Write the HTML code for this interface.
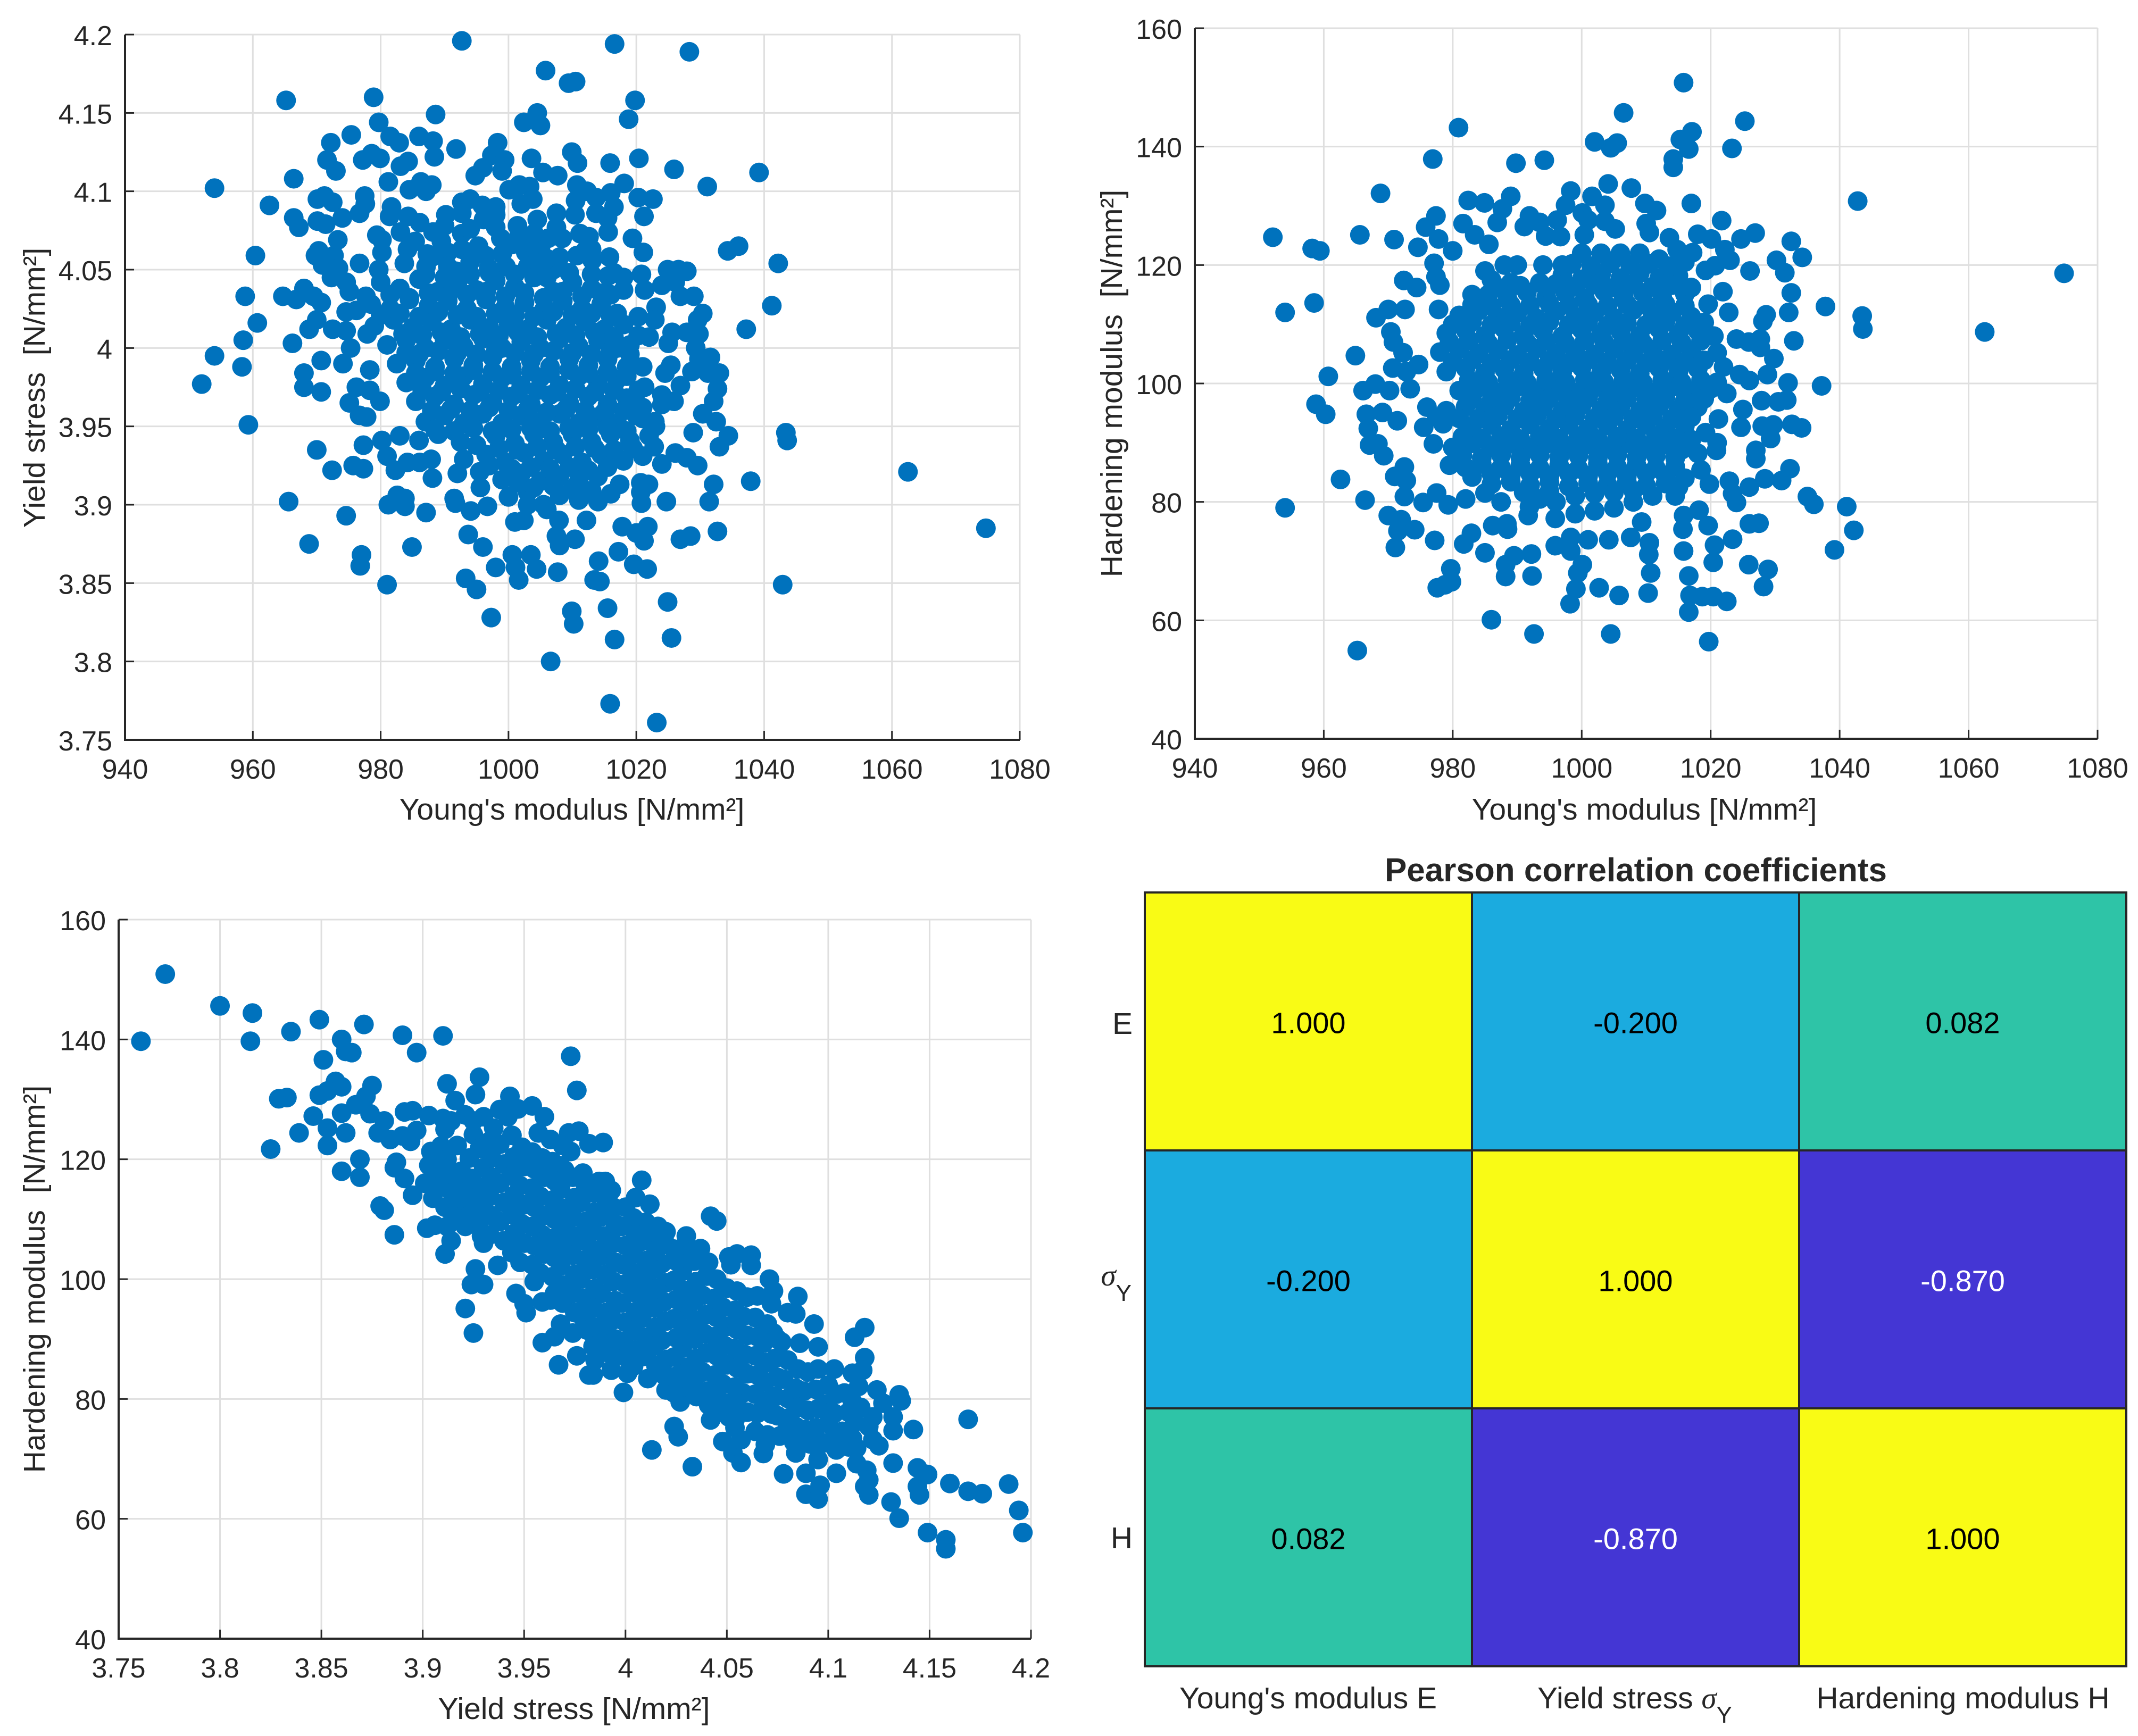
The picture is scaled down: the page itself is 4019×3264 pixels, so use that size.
<!DOCTYPE html>
<html lang="en">
<head>
<meta charset="utf-8">
<title>Material parameter scatter plots and Pearson correlation</title>
<style>
html,body{margin:0;padding:0;background:#fff;}
svg{display:block;font-family:"Liberation Sans",Arial,sans-serif;fill:#262626;}
.lbl{font-size:57px;white-space:pre;}
.sym{font-family:"Liberation Serif",serif;font-style:italic;font-size:57px;}
.sub{font-size:44px;}
</style>
</head>
<body>
<svg id="figure" xmlns="http://www.w3.org/2000/svg" width="4019" height="3264" viewBox="0 0 4019 3264">
<rect x="0" y="0" width="4019" height="3264" fill="#ffffff"/>
<g id="p1"></g>
<g id="p2"></g>
<g id="p3"></g>
<g id="hm"></g>
<text class="lbl" x="1075" y="1541" text-anchor="middle">Young's modulus [N/mm²]</text>
<text class="lbl" transform="translate(84,729) rotate(-90)" text-anchor="middle">Yield stress  [N/mm²]</text>
<text class="lbl" x="3091" y="1541" text-anchor="middle">Young's modulus [N/mm²]</text>
<text class="lbl" transform="translate(2109,721) rotate(-90)" text-anchor="middle">Hardening modulus  [N/mm²]</text>
<text class="lbl" x="1079" y="3232" text-anchor="middle">Yield stress [N/mm²]</text>
<text class="lbl" transform="translate(84,2405) rotate(-90)" text-anchor="middle">Hardening modulus  [N/mm²]</text>
<text x="3075" y="1657" font-size="62" font-weight="bold" text-anchor="middle">Pearson correlation coefficients</text>
<text font-size="57" x="2129" y="1944" text-anchor="end">E</text>
<text font-size="57" x="2127" y="2417" text-anchor="end"><tspan class="sym">σ</tspan><tspan class="sub" dy="29">Y</tspan></text>
<text font-size="57" x="2129" y="2911" text-anchor="end">H</text>
<text font-size="57" x="2459" y="3212" text-anchor="middle">Young's modulus E</text>
<text font-size="57" x="3073" y="3212" text-anchor="middle">Yield stress <tspan class="sym">σ</tspan><tspan class="sub" dy="27">Y</tspan></text>
<text font-size="57" x="3690" y="3212" text-anchor="middle">Hardening modulus H</text>
</svg>
<script>
const modulusTicks=[940,960,980,1000,1020,1040,1060,1080];
const stressTicks=[3.75,3.8,3.85,3.9,3.95,4,4.05,4.1,4.15,4.2];
const hardeningTicks=[40,60,80,100,120,140,160];
const heatCategories=['E','sigmaY','H'];
const heatRow1=[1.000,-0.200,0.082];
const heatRow2=[-0.200,1.000,-0.870];
const heatRow3=[0.082,-0.870,1.000];
const stressVsModulus=[
[992.7,4.196],[1016.6,4.194],[1028.3,4.189],[1005.8,4.177],[1009.4,4.169],[1010.5,4.170],[965.2,4.158],[978.9,4.160],[1019.8,4.158],[979.7,4.144],[988.6,4.149],[1018.8,4.146],[1002.4,4.144],[1004.5,4.150],[1005,4.142],
[972.2,4.131],[975.4,4.136],[981.5,4.135],[982.9,4.131],[986,4.135],[988.2,4.132],[988.4,4.122],[991.8,4.127],[998.3,4.131],[978.6,4.124],[977.2,4.120],[979.9,4.121],[971.6,4.120],[973,4.113],[983.1,4.116],[984.3,4.119],
[966.4,4.108],[954,4.102],[962.6,4.091],[981.2,4.106],[997.4,4.123],[999.4,4.120],[996,4.115],[999,4.113],[994.8,4.110],[1003.6,4.121],[1005.4,4.112],[1007.7,4.110],[1009.9,4.125],[1010.8,4.118],[1015.9,4.118],[1020.4,4.121],[1025.9,4.114],[1031.1,4.103],[1039.2,4.112],
[984.5,4.101],[986.3,4.106],[988,4.104],[987.1,4.100],[970.1,4.095],[971.2,4.097],[972.5,4.093],[977.5,4.097],[977.6,4.092],[976.7,4.086],[981.7,4.090],[981.4,4.084],[974,4.083],[966.4,4.083],[967.2,4.077],[970.1,4.081],[971.4,4.079],[984.3,4.084],[986.1,4.080],[990.2,4.085],[992.7,4.093],[994,4.095],[992.7,4.086],[995.9,4.091],[996.1,4.082],[998,4.090],[998,4.085],[1001.7,4.104],[1000.1,4.101],[1003.3,4.103],[1002,4.092],[1003.8,4.095],[1004.5,4.082],[1007.5,4.086],[1010.7,4.104],[1012.3,4.100],[1010.5,4.094],[1010.4,4.085],[1013.7,4.096],[1013.7,4.086],[1016,4.099],[1018.1,4.105],[1016.5,4.090],[1015.5,4.083],[1020.3,4.096],[1022.6,4.095],[1021.2,4.084],
[979.4,4.072],[980.2,4.069],[980.2,4.061],[983.1,4.074],[984.2,4.063],[983.7,4.054],[985.4,4.068],[988.2,4.074],[989.5,4.068],[987.3,4.060],[987.1,4.052],[990.5,4.061],[990.5,4.052],[992.7,4.073],[992.7,4.063],[991.8,4.049],[995.3,4.065],[996.4,4.059],[996.9,4.051],[998.8,4.070],[999.6,4.052],[1001.4,4.078],[1001.7,4.073],[1002.7,4.061],[1004.3,4.054],[1006.2,4.070],[1008.4,4.070],[1011.2,4.073],[1012.6,4.071],[1010.7,4.059],[1013.1,4.056],[1015.6,4.074],[1015.8,4.058],[1019.4,4.070],[1021.1,4.061],[960.4,4.059],[969.8,4.059],[970.3,4.062],[970.9,4.053],[972.7,4.059],[973.3,4.069],[973.4,4.051],[976.7,4.054],[979.7,4.050],[1034.3,4.062],[1036,4.065],[1042.2,4.054],[1024.9,4.050],[1026.6,4.050],[1027.9,4.049],[1005,4.064],[1008,4.058],[1003,4.052],[1007,4.050],
[964.7,4.033],[966.8,4.031],[968,4.038],[969.5,4.033],[970.7,4.029],[958.8,4.033],[960.7,4.016],[958.5,4.005],[966.2,4.003],[968.8,4.012],[970,4.018],[972.5,4.012],[972.3,4.045],[974.6,4.042],[975.1,4.036],[974.6,4.023],[976.2,4.024],[974.6,4.011],[975.3,4.000],[977.7,4.033],[977.9,4.009],
[1015.6,4.046],[1018,4.037],[1020.8,4.047],[1021.3,4.037],[1024,4.040],[1026.1,4.042],[1026.9,4.033],[1029,4.033],[1030.4,4.022],[1029.6,4.018],[1023.1,4.026],[1022.9,4.018],[1020.3,4.020],[1020.3,4.008],[1022,4.007],[1025.6,4.010],[1027.9,4.010],[1029.8,4.009],[1025,4.003],[1041.2,4.027],[1037.2,4.012],
[952,3.977],[954,3.995],[958.3,3.988],[959.3,3.951],[970.7,3.992],[968,3.984],[968,3.975],[970.7,3.972],[974.1,3.990],[975.1,3.965],[976.2,3.975],[976.7,3.957],[977.8,3.956],[978.3,3.986],[979.9,3.966],[978.3,3.973],
[1031.6,3.994],[1033,3.984],[1031.2,3.984],[1028.7,3.985],[1029.3,4.000],[1029.8,3.993],[1025.4,3.989],[1024.5,3.984],[1026.9,3.976],[1024,3.970],[1025.9,3.966],[1024,3.964],[1032.7,3.974],[1032.1,3.966],[1030.4,3.958],[1032.5,3.953],[1028.9,3.946],[1034.4,3.944],[1043.4,3.946],[1043.6,3.941],[1021,3.988],[1019.2,3.989],[1020.3,3.973],[1021.3,3.975],[1022.9,3.953],
[970,3.935],[972.4,3.922],[975.7,3.925],[977.3,3.923],[977.3,3.938],[980.2,3.941],[981,3.931],[982.3,3.922],[984.2,3.927],[986.1,3.927],[988.1,3.917],[987.9,3.929],[965.6,3.902],[974.6,3.893],[981.2,3.900],[982.6,3.906],[983.8,3.904],[983.8,3.899],[987.1,3.895],[968.8,3.875],[991.5,3.904],[991.7,3.901],[994.1,3.896],[996.7,3.899],[995.6,3.911],[993.7,3.881],[996,3.873],[984.9,3.873],[977,3.868],[976.8,3.861],[981,3.849],[998,3.860],[993.3,3.853],[995,3.846],[997.3,3.828],[1000.6,3.868],[1003.5,3.868],[1001.1,3.860],[1004.4,3.859],[1001.6,3.852],[1007.7,3.857],[1008,3.874],[1007.5,3.880],[1010.4,3.878],[1007.9,3.890],[1001,3.889],[1002.4,3.890],[1012.2,3.890],[1017.8,3.886],[1020,3.882],[1021.8,3.886],[1021.2,3.877],[1017.2,3.870],[1014.1,3.864],[1013.4,3.852],[1014.3,3.851],[1019.6,3.862],[1021.7,3.859],[1026.9,3.878],[1028.5,3.880],[1032.7,3.883],[1037.9,3.915],[1031.4,3.902],[1032.1,3.913],[1024.7,3.902],[1020.8,3.901],[1020.7,3.908],[1021.9,3.913],[1020.7,3.914],[1017.4,3.913],[1062.5,3.921],[1074.7,3.885],[1042.9,3.849],[1024.9,3.838],[1025.5,3.815],[1016.6,3.814],[1015.5,3.834],[1009.9,3.832],[1010.2,3.824],[1006.6,3.800],[1015.9,3.773],[1023.2,3.761],[1026.1,3.933],[1027.9,3.930],[1029.6,3.925],[1024,3.926],[1033,3.937],[1022.8,3.937]
];
const stressVsModulusDense=[
[980,4.042],[983,4.038],[986,4.044],[989,4.036],[992,4.041],[995,4.037],[998,4.043],[1001,4.039],[1004,4.045],[1007,4.036],[1010,4.042],[1013,4.038],[1016,4.034],
[978.5,4.028],[981.5,4.025],[984.5,4.031],[987.5,4.027],[990.5,4.030],[993.5,4.025],[996.5,4.031],[999.5,4.026],[1002.5,4.029],[1005.5,4.024],[1008.5,4.030],[1011.5,4.025],[1014.5,4.028],[1017,4.022],
[979,4.014],[982,4.018],[985,4.013],[988,4.017],[991,4.012],[994,4.018],[997,4.013],[1000,4.016],[1003,4.012],[1006,4.018],[1009,4.013],[1012,4.017],[1015,4.012],[1018,4.015],
[981,4.002],[984,4.005],[987,4.000],[990,4.005],[993,4.001],[996,4.006],[999,4.000],[1002,4.004],[1005,4.000],[1008,4.006],[1011,4.001],[1014,4.005],[1017,4.000],
[982.5,3.990],[985.5,3.992],[988.5,3.988],[991.5,3.993],[994.5,3.989],[997.5,3.994],[1000.5,3.988],[1003.5,3.992],[1006.5,3.988],[1009.5,3.993],[1012.5,3.989],[1015.5,3.993],[1018.5,3.988],
[984,3.978],[987,3.981],[990,3.976],[993,3.982],[996,3.977],[999,3.981],[1002,3.976],[1005,3.981],[1008,3.976],[1011,3.982],[1014,3.977],[1017,3.980],
[985.5,3.966],[988.5,3.969],[991.5,3.964],[994.5,3.970],[997.5,3.965],[1000.5,3.969],[1003.5,3.964],[1006.5,3.970],[1009.5,3.965],[1012.5,3.969],[1015.5,3.964],[1018.5,3.968],[1021,3.962],
[987,3.953],[990,3.957],[993,3.952],[996,3.958],[999,3.952],[1002,3.957],[1005,3.953],[1008,3.958],[1011,3.952],[1014,3.956],[1017,3.952],[1020,3.957],[1023,3.950],
[983,3.944],[986,3.941],[989,3.945],[992.5,3.940],[998,3.944],[1001,3.939],[1004,3.945],[1007,3.940],[1010,3.945],[1013,3.940],[1016,3.945],[1019,3.941],[1022,3.944],
[993,3.929],[996.5,3.932],[999.5,3.927],[1002.5,3.933],[1005.5,3.928],[1008.5,3.932],[1011.5,3.927],[1014.5,3.932],[1018,3.928],[1021,3.931],
[992,3.920],[995.5,3.921],[999,3.916],[1002,3.920],[1005,3.915],[1008,3.918],[1011,3.915],[1014,3.918],
[1000,3.905],[1003,3.908],[1005.5,3.900],[1008,3.906],[1011,3.903],[1014,3.902],[1016,3.907],
[981.5,4.034],[984.5,4.032],[987.5,4.035],[990.5,4.033],[993.5,4.034],[996.5,4.036],[999.5,4.033],[1002.5,4.035],[1005.5,4.032],[1008.5,4.036],[1011.5,4.033],[1014.5,4.035],
[980,4.021],[983,4.022],[986,4.020],[989,4.023],[992,4.021],[995,4.020],[998,4.022],[1001,4.021],[1004,4.020],[1007,4.023],[1010,4.021],[1013,4.022],[1016,4.020],
[983.5,4.009],[986.5,4.008],[989.5,4.010],[992.5,4.007],[995.5,4.009],[998.5,4.008],[1001.5,4.010],[1004.5,4.007],[1007.5,4.009],[1010.5,4.008],[1013.5,4.010],[1016.5,4.007],[1019,4.002],
[984,3.997],[986,3.996],[989,3.998],[992,3.997],[995,3.996],[998,3.998],[1001,3.997],[1004,3.996],[1007,3.998],[1010,3.997],[1013,3.996],[1016,3.998],[1019,3.996],
[985.5,3.984],[988.5,3.985],[991.5,3.984],[994.5,3.986],[997.5,3.985],[1000.5,3.983],[1003.5,3.985],[1006.5,3.984],[1009.5,3.986],[1012.5,3.984],[1015.5,3.985],[1018.5,3.982],
[986.5,3.973],[989.5,3.972],[992.5,3.974],[995.5,3.972],[998.5,3.973],[1001.5,3.971],[1004.5,3.973],[1007.5,3.972],[1010.5,3.974],[1013.5,3.972],[1016.5,3.973],[1019.5,3.964],
[988,3.960],[991,3.961],[994,3.960],[997,3.962],[1000,3.960],[1003,3.961],[1006,3.959],[1009,3.961],[1012,3.960],[1015,3.959],[1018,3.960],[1021,3.955],
[988.5,3.948],[991.5,3.947],[994.5,3.949],[997.5,3.947],[1000.5,3.948],[1003.5,3.949],[1006.5,3.947],[1009.5,3.949],[1012.5,3.948],[1015.5,3.949],[1018.5,3.947],
[995,3.938],[998.5,3.936],[1001.5,3.935],[1004.5,3.937],[1007.5,3.935],[1010.5,3.937],[1013.5,3.936],[1016.5,3.935],[1019.5,3.936],
[997,3.925],[1000.5,3.923],[1003.5,3.924],[1006.5,3.923],[1009.5,3.924],[1012.5,3.922],[1015.5,3.924],
[1001.5,3.914],[1004,3.911],[1007,3.912],[1010,3.910],[1013,3.909],[1003,3.900],[1006,3.897],
[987,4.047],[990,4.045],[994,4.047],[997,4.048],[1001,4.047],[1006,4.045],[1009.5,4.048],[1013,4.047],[1018,4.045],
[988,4.058],[994,4.055],[999,4.060],[1006,4.057],[1012,4.062],[1000.5,4.066],[1003,4.068],[1007.5,4.077],[1004,4.073],[990,4.078],[994,4.076],[998,4.077],[1013,4.063],[1016.5,4.048]
];
const hardeningVsModulus=[
[1015.8,150.8],[1006.5,145.7],[1025.3,144.3],[980.9,143.2],[1017.1,142.5],[1002,140.8],[1004.5,139.8],[1005.5,140.6],[1015.3,141.2],[1016.6,139.6],[1023.3,139.7],[1014.2,137.9],[1014.2,136.5],[976.9,137.9],[989.8,137.2],[994.2,137.7],[1004.1,133.7],[1007.7,133],[968.8,132.1],[982.4,130.9],[984.9,130.5],[989,131.6],[998.3,132.5],[997.5,130.1],[1001.6,131.6],[1003.6,130.1],[1017,130.4],[1009.8,130.4],[1011.6,129.2],[1042.8,130.8],
[952.1,124.7],[958.2,122.8],[959.4,122.4],[965.6,125.1],[970.9,124.3],[974.6,123],[975.8,126.4],[977.4,128.3],[977.8,124.4],[981.6,127],[983.4,125.1],[980,122.4],[985.6,123.5],[986.9,127.2],[987.7,129.5],[991.9,128.3],[991.1,126.5],[993.5,127.2],[996.2,127.6],[994.4,124.9],[996.7,124.8],[1000.1,128.8],[1001,127.6],[1000.4,125.1],[1003.6,127.4],[1005.2,126.1],[1010,127],[1010.5,125.5],[1013.6,124.6],[1018,125.2],[1021.7,127.5],[1020.1,124.4],[1024.7,124.4],[1026.9,125.4],[1032.5,124],[1034.2,121.3],[1022.2,122.6],[1017.2,122.1],[1014.8,122.6],[1030.2,120.8],[1031.5,118.7],[1026.1,119],[1023,120.8],[1074.8,118.6],[1032.5,115.3],[1032.1,112],[1037.8,113],[1043.5,111.4],[1043.6,109.2],[1062.5,108.7],[1037.2,99.6],[1032.9,107.2],[1028.6,111.6],[1028.1,110.5],[1027.7,107.5],[1027.7,106.1],[1029.8,104.2],[1028.8,101.5],[1032,100.1],[1025.9,107],[1024,107.5],[1026,100.5],[1024.5,101.5],[1021.9,115.5],[1022.8,112],[1019.6,113.4],[1020.7,119.9],[1019.2,119.1],
[977.1,120.3],[977.4,118],[978,116.6],[977.8,112.5],[974.4,116.2],[972.4,117.4],[972.6,112.5],[970,112.5],[968.1,111.1],[954,112],[958.5,113.6],[970.4,108.7],[970.8,107],[972.3,105.2],[964.9,104.7],[960.7,101.2],[970.7,102.6],[968,99.9],[966.1,98.8],[972.8,102],[974.7,103.2],[973.4,99.1],[970.2,98.8],[958.8,96.5],[960.3,94.8],[966.6,94.8],[969.1,95.1],[971.4,93.7],[966.9,92.4],[967.1,89.6],[968.4,89.8],[969.3,87.8],[971,84.3],[972.8,83.6],[972.5,85.9],[962.6,83.8],[954,79],[966.4,80.3],[972.5,80.9],[975.4,79.9],[970,77.7],[972,77],[971.5,75.1],[974.1,75.3],[971.1,72.3],[977.2,73.5],[965.2,54.9],[986,60.1],[992.6,57.7],[1004.5,57.7],[1019.7,56.4],[1016.6,61.4],[1022.5,63.2],[1020.4,64],[1018.7,64],[1016.8,64.2],[1010.3,64.6],[1005.8,64.2],[998.2,62.8],[1002.7,65.5],[999.1,65.3],[992.3,67.5],[988.2,67.4],[977.6,65.5],[978.8,66],[979.8,66.5],[979.7,68.7],[988.2,69.4],[989.5,70.9],[992.2,71.2],[985,71.4],[981.7,72.9],[982.9,74.7],[986.2,76],[988.4,76.3],[988.5,75.4],[995.9,72.6],[998.3,71.7],[1000.1,69.4],[999.4,68],[1010.7,68],[1016.6,67.5],[1020.4,69.8],[1025.9,69.4],[1028.9,68.6],[1028.2,65.7],[1039.2,71.9],[1042.2,75.2],[1041.1,79.2],[1035,80.9],[1036,79.6],[1026,76.3],[1027.5,76.4],[1023.4,73.7],[1020.6,72.7],[1015.8,71.7],[1019.6,76],[1018.2,78.6],[1015.7,75.4],[1015.8,77.7],[1010.5,73.1],[1010.4,71.1],[1007.6,74],[1009.3,76.6],[1004.2,73.6],[998.3,74],[1001,73.6],[991.7,77.7],[991.9,79.2],[995.9,77.2],[1023.4,81.4],[1024,79.9],[1022.9,83.5],[1026,82.5],[1028.4,83.9],[1031,83.6],[1032.3,85.6],[1027,87.3],[1027,88.7],[1019.8,83],[1020.9,88.7],[1021,90],[1019.2,91.7],[1021.2,94],[1024.7,92.6],[1025,95.6],[1027.9,97.1],[1028,92.8],[1029.7,93],[1029.3,90.7],[1030.5,96.9],[1031.8,97.2],[1032.6,93.1],[1034.1,92.5],
[977.5,81.5],[979.3,79.5],[982,80.5],[985,81.5],[987.5,80],[993.5,80.5],[996,80],[999,78],[1002,78.5],[1005,79],[1008,80],[1011,81],[1014.5,81],[1015,82.5]
];
const hardeningVsModulusDense=[
[983,115],[985,119],[988,120],[990,120],[986,117.5],[989,117],[994,120],[997,120],[1000,122],[1003,122],[1006,122],[1009,122],[1012,121],
[997,118.3],[1000,117.6],[1003,118.4],[1006,117.8],[1009,118.6],[1012,117.7],[1015,118.2],
[985.5,115],[988.5,114.3],[991.5,115.4],[994.5,114.6],[997.5,115.2],[1000.5,114.4],[1003.5,115.5],[1006.5,114.7],[1009.5,115.3],[1012.5,114.5],[1016,115.1],
[981,111.5],[984,112.3],[987,111.2],[990,111.9],[993,111],[996,112.2],[999,111.3],[1002,112],[1005,111.1],[1008,112.4],[1011,111.5],[1014,112],[1017,111.3],
[979,108.5],[982,109],[985,108.1],[988,109.2],[991,108.3],[994,108.9],[997,108],[1000,109.1],[1003,108.4],[1006,108.8],[1009,108.1],[1012,109.2],[1015,108.3],[1018,108.9],[1020.5,108],
[978,105.3],[981,105.8],[984,105],[987,105.7],[990,104.8],[993,105.9],[996,105.1],[999,105.6],[1002,104.9],[1005,105.8],[1008,105.2],[1011,105.7],[1014,104.9],[1017,105.5],[1021,105.2],
[979,102],[982,102.6],[985,101.8],[988,102.4],[991,101.7],[994,102.5],[997,102],[1000,102.7],[1003,101.8],[1006,102.3],[1009,101.7],[1012,102.6],[1015,102],[1018,102.5],[1022,102.8],
[981,98.8],[984,99.3],[987,98.5],[990,99.4],[993,98.6],[996,99.1],[999,98.5],[1002,99.3],[1005,98.7],[1008,99.2],[1011,98.5],[1014,99.4],[1017,98.6],[1020,99.1],[1022.5,98.3],
[976,96],[979,95.4],[982,96.1],[985,95.5],[988,96.2],[991,95.3],[994,96],[997,95.4],[1000,96.3],[1003,95.5],[1006,96],[1009,95.3],[1012,96.1],[1015,95.5],[1018,96],
[975.5,92.6],[978.5,93.2],[983,92.5],[986,93],[989,92.2],[992,93.1],[995,92.4],[998,93],[1001,92.3],[1004,92.9],[1007,92.2],[1010,93],[1013,92.5],[1016,92.8],
[977,89.8],[980,89.2],[983,89.9],[986,89.2],[989,89.8],[992,89.1],[995,89.9],[998,89.3],[1001,89.7],[1004,89.1],[1007,89.9],[1010,89.2],[1013,89.7],[1015.5,88.8],[1018,88.2],
[979.5,86.2],[982,85.8],[984.5,86.4],[987.5,85.8],[990.5,86.3],[993.5,85.7],[996.5,86.2],[999.5,85.6],[1002.5,86.4],[1005.5,85.9],[1008.5,86.2],[1011.5,85.7],[1014.5,86],[1018.5,85.4],
[986,83],[989,83.4],[992,82.8],[995,83.3],[998,82.6],[1001,83.2],[1004,82.9],[1007,83.4],[1010,82.7],[1013,83.1],
[998.5,120.2],[1001.5,119.8],[1004.5,120.3],[1007.5,120],[1010.5,120.2],[1013.5,119.8],[1016,120.5],
[987,116.2],[990.5,116.5],[993.5,117],[996,116.8],[999,116.4],[1002,116.7],[1005,116.2],[1008,116.8],[1011,116.3],[1014,116.6],[1017,116.2],
[983,113.3],[986,113],[989,113.3],[992,113.2],[995,113.4],[998,113.2],[1001,113.3],[1004,113.1],[1007,113.4],[1010,113.2],[1013,113.4],[1016,113.1],
[980,110],[983,110.4],[986,109.9],[989,110.4],[992,109.8],[995,110.5],[998,109.9],[1001,110.4],[1004,109.8],[1007,110.3],[1010,109.9],[1013,110.4],[1016,109.8],[1019,110.3],
[979.5,107],[982.5,107.3],[985.5,106.8],[988.5,107.4],[991.5,106.9],[994.5,107.2],[997.5,106.8],[1000.5,107.3],[1003.5,106.9],[1006.5,107.2],[1009.5,106.8],[1012.5,107.3],[1015.5,106.9],[1018.5,107.2],
[980,103.6],[983,104],[986,103.5],[989,104],[992,103.6],[995,103.9],[998,103.5],[1001,104],[1004,103.6],[1007,103.9],[1010,103.5],[1013,104],[1016,103.6],[1019,103.9],
[982.5,100.6],[985.5,100.2],[988.5,100.7],[991.5,100.1],[994.5,100.6],[997.5,100.2],[1000.5,100.7],[1003.5,100.2],[1006.5,100.6],[1009.5,100.1],[1012.5,100.6],[1015.5,100.2],[1018.5,100.6],[1021,100.2],
[983,97.4],[986,97.1],[989,97.6],[992,97.1],[995,97.5],[998,97.2],[1001,97.6],[1004,97.1],[1007,97.5],[1010,97.2],[1013,97.5],[1016,97.1],[1019,97.4],
[977.5,94.3],[981,94.1],[984,94],[987,94.5],[990,94],[993,94.5],[996,94],[999,94.5],[1002,94.1],[1005,94.4],[1008,94],[1011,94.5],[1014,94],[1017,94.3],
[981.5,91],[984.5,90.7],[987.5,91.1],[990.5,90.6],[993.5,91.1],[996.5,90.7],[999.5,91.1],[1002.5,90.6],[1005.5,91],[1008.5,90.7],[1011.5,91.1],[1014.5,90.7],[1017,90.5],
[981.5,87.8],[984.5,87.4],[987.5,87.9],[990.5,87.4],[993.5,87.9],[996.5,87.5],[999.5,87.8],[1002.5,87.4],[1005.5,87.9],[1008.5,87.5],[1011.5,87.8],[1014.5,87.4],
[983,84.2],[986,84.7],[989,84.4],[992,84.8],[995,84.3],[998,84.8],[1001,84.4],[1004,84.8],[1007,84.3],[1010,84.8],[1013,84.4],[1016,84],
[991,81.6],[995,81.8],[999,81],[1002,81.4],[1005,81.6],[1008,81.9]
];
const hardeningVsStress=[
[3.761,139.7],[3.773,150.9],[3.8,145.6],[3.816,144.4],[3.815,139.7],[3.835,141.3],[3.849,143.3],[3.871,142.5],[3.89,140.7],[3.91,140.6],[3.86,140],[3.862,138],[3.865,137.8],[3.897,137.8],[3.851,136.6],[3.973,137.2],[3.976,131.5],[3.928,133.7],[3.912,132.6],[3.926,130.8],[3.943,130.5],[3.916,129.8],[3.875,132.3],[3.857,133],[3.86,132.1],[3.853,131.4],[3.849,130.7],[3.829,130.1],[3.833,130.3],[3.872,130.5],[3.867,129.1],[3.874,127.6],[3.86,127.7],[3.846,127.2],[3.839,124.4],[3.853,125.2],[3.862,124.4],[3.853,122.3],[3.825,121.7],[3.869,120],[3.86,118],[3.869,117],[3.881,126.4],[3.878,124.4],[3.884,123.3],[3.891,127.9],[3.895,128.1],[3.89,123.9],[3.903,127.3],[3.897,124.8],[3.894,123],[3.886,118.6],[3.887,119.5],[3.891,116.8],[3.895,114],[3.879,112.2],[3.881,111.5],[3.886,107.4],[3.902,108.5],[3.906,109],[3.912,108.8],[3.921,108.8],[3.914,106.4],[3.911,104.2],[3.929,107.2],[3.93,106],[3.926,101.7],[3.937,102.3],[3.924,99.1],[3.93,99.1],[3.921,95.1],[3.925,91],[3.946,97.6],[3.951,94.4],[3.95,95.9],[3.959,96.2],[3.963,96.5],[3.959,89.4],[3.965,90.4],[3.967,85.7],[3.968,92.5],[3.976,87.2],[3.984,84],[3.982,84],[3.993,84.8],[3.999,81.1],[4.001,84.3],[4.011,83.4],[4.013,71.5],[4.024,75.4],[4.026,73.7],[4.033,68.7],[4.027,79.5],[4.042,76.5],[4.048,72.9],[4.053,71],[4.057,69.4],[4.057,73.2],[4.054,75.2],[4.068,70.9],[4.069,72.4],[4.07,74],[4.078,67.5],[4.089,67.6],[4.089,64.1],[4.095,63.3],[4.096,65.6],[4.104,67.6],[4.095,69.9],[4.084,71],[4.076,73.8],[4.114,69.2],[4.119,68.1],[4.12,66.5],[4.118,65.4],[4.12,64],[4.131,62.8],[4.135,60.1],[4.132,69.3],[4.144,68.5],[4.149,67.4],[4.144,65.4],[4.145,64],[4.16,65.9],[4.169,64.6],[4.176,64.2],[4.189,65.8],[4.194,61.4],[4.196,57.7],[4.149,57.7],[4.158,56.5],[4.158,55],[4.169,76.6],[4.142,74.9],[4.135,80.7],[4.136,79.7],[4.124,81.5],[4.127,79.3],[4.132,77],[4.132,74.7],[4.125,72.2],[4.122,77],[4.113,76.1],[4.118,86.9],[4.118,91.9],[4.113,90.3],[4.117,84.8],[4.115,82.1],[4.112,84.3],[4.103,85],[4.112,79.5],[4.093,92.5],[4.095,88.7],[4.086,89.3],[4.085,97.1],[4.08,94.4],[4.084,94.2],[4.077,89.5],[4.073,91],[4.071,100],[4.073,98],[4.072,95.9],[4.062,104],[4.062,102.3],[4.055,104.2],[4.051,103.7],[4.052,102.4],[4.042,110.5],[4.045,109.7],[4.03,107.2],[4.037,105.1],[4.041,102.8],[4.008,116.5],[4.005,113.6],[4.012,112.5],[4.016,108.8],[4.02,107.9],[3.99,116.3],[3.987,116.3],[3.993,114.8],[3.989,122.8],[3.982,122.6],[3.977,124.7],[3.972,124.4],[3.963,123.3],[3.969,122.3],[3.957,124.4],[3.96,127.1],[3.954,128.9],[3.947,128.4],[3.938,128.3],[3.935,125.2],[3.942,127.1],[3.93,127.1],[3.921,127.4],[3.914,126.4],[3.91,126.8],[3.911,125],[3.909,122.2],[3.904,121.3],[3.925,124.1],[3.925,126.4],[3.979,117.7],[3.968,118.9],[3.973,121.3]
];
const hardeningVsStressDense=[
[3.901,116],[3.905,113.5],[3.903,119],[3.908,117.5],[3.911,112],[3.913,115],[3.912,120],[3.917,122.3],[3.919,118],[3.92,114.8],[3.919,111.6],
[3.928,121.8],[3.93,118.6],[3.928,115.4],[3.93,112.2],[3.928,109.8],
[3.938,122.5],[3.94,119.2],[3.938,116],[3.94,112.8],[3.938,109.6],[3.94,106.4],
[3.949,122],[3.95,118.8],[3.948,115.6],[3.95,112.4],[3.949,109.2],[3.95,106],[3.948,102.8],
[3.959,120.2],[3.96,117],[3.958,113.8],[3.96,110.6],[3.959,107.4],[3.96,104.2],[3.958,101],
[3.97,118.2],[3.968,115],[3.97,111.8],[3.969,108.6],[3.97,105.4],[3.968,102.2],[3.97,99],[3.969,96],
[3.98,116],[3.978,112.8],[3.98,109.6],[3.979,106.4],[3.98,103.2],[3.978,100],[3.98,96.8],[3.979,93.6],[3.981,91.5],
[3.99,113.6],[3.988,110.4],[3.99,107.2],[3.989,104],[3.99,100.8],[3.988,97.6],[3.99,94.4],[3.989,91.2],[3.99,88.5],
[4,112],[3.998,108.8],[4,105.6],[3.999,102.4],[4,99.2],[3.998,96],[4,92.8],[3.999,89.6],[4,87],
[4.01,109.5],[4.008,106.3],[4.01,103.1],[4.009,99.9],[4.01,96.7],[4.008,93.5],[4.01,90.3],[4.009,87.1],
[4.02,105.8],[4.018,102.6],[4.02,99.4],[4.019,96.2],[4.02,93],[4.018,89.8],[4.02,86.6],[4.019,84],[4.02,81.5],
[4.03,104.5],[4.028,101.3],[4.03,98.1],[4.029,94.9],[4.03,91.7],[4.028,88.5],[4.03,85.3],[4.031,82],
[4.04,100.5],[4.038,97.3],[4.04,94.1],[4.039,90.9],[4.04,87.7],[4.038,84.5],[4.04,81.3],[4.041,79],
[4.05,98.5],[4.048,95.3],[4.05,92.1],[4.049,88.9],[4.05,85.7],[4.048,82.5],[4.05,79.3],[4.051,77],
[4.06,97],[4.058,93.8],[4.06,90.6],[4.059,87.4],[4.06,84.2],[4.058,81],[4.06,77.8],
[4.07,92.5],[4.068,89.3],[4.07,86.1],[4.069,82.9],[4.07,79.7],[4.072,77.5],
[4.08,86.5],[4.078,83.3],[4.08,80.1],[4.081,76.9],[4.079,74.5],
[4.09,84.5],[4.088,81.3],[4.09,78.1],[4.089,74.9],[4.091,72.5],
[4.1,82.3],[4.098,79.1],[4.1,75.9],[4.099,72.7],
[4.108,81],[4.11,77.8],[4.107,74.6],[4.11,72],
[3.906,120.2],[3.907,115.4],[3.915,117.4],[3.915,113.4],[3.915,110.5],[3.923,120.2],[3.924,116.8],[3.924,113.5],[3.923,110.6],
[3.933,123],[3.934,120.2],[3.934,117],[3.933,113.8],[3.934,110.6],[3.933,107.4],
[3.944,124],[3.945,120.4],[3.944,117.2],[3.945,114],[3.944,110.8],[3.945,107.6],[3.944,104.4],
[3.954,121.2],[3.955,118.4],[3.954,115.2],[3.955,112],[3.954,108.8],[3.955,105.6],[3.954,102.4],[3.955,99.6],
[3.964,119.6],[3.965,116.4],[3.964,113.2],[3.965,110],[3.964,106.8],[3.965,103.6],[3.964,100.4],[3.965,97.6],
[3.974,117],[3.975,113.6],[3.974,110.4],[3.975,107.2],[3.974,104],[3.975,100.8],[3.974,97.6],[3.975,94.4],[3.974,91],
[3.984,114.4],[3.985,111.2],[3.984,108],[3.985,104.8],[3.984,101.6],[3.985,98.4],[3.984,95.2],[3.985,92],[3.984,88.8],[3.985,86.5],
[3.994,112],[3.995,109.2],[3.994,106],[3.995,102.8],[3.994,99.6],[3.995,96.4],[3.994,93.2],[3.995,90],[3.994,87],
[4.004,110.2],[4.005,107.4],[4.004,104.2],[4.005,101],[4.004,97.8],[4.005,94.6],[4.004,91.4],[4.005,88.2],[4.004,85.5],
[4.014,107.6],[4.015,104.8],[4.014,101.6],[4.015,98.4],[4.014,95.2],[4.015,92],[4.014,88.8],[4.015,85.6],
[4.024,105],[4.025,103],[4.024,99.8],[4.025,96.6],[4.024,93.4],[4.025,90.2],[4.024,87],[4.025,83.8],[4.024,81],
[4.034,103],[4.035,99.6],[4.034,96.4],[4.035,93.2],[4.034,90],[4.035,86.8],[4.034,83.6],[4.035,80.4],
[4.045,100],[4.044,96.8],[4.045,93.6],[4.044,90.4],[4.045,87.2],[4.044,84],[4.045,80.8],[4.044,78],
[4.055,98],[4.054,94.8],[4.055,91.6],[4.054,88.4],[4.055,85.2],[4.054,82],[4.055,78.8],[4.054,76.5],
[4.065,97.2],[4.064,93.6],[4.065,90.4],[4.064,87.2],[4.065,84],[4.064,80.8],[4.065,77.6],[4.064,74.6],
[4.075,90],[4.074,86.8],[4.075,83.6],[4.074,80.4],[4.075,77.2],[4.085,85],[4.084,81.8],[4.085,78.6],[4.084,75.4],[4.083,72.8],
[4.095,85],[4.094,81.6],[4.095,78.4],[4.094,75.2],[4.095,72.2],[4.104,80.8],[4.103,77.6],[4.104,74.4],[4.104,71.5],[4.112,73.4],[4.114,71.8],[4.116,78.6],[4.12,75.4],[4.122,73.2]
];

const SVG_NS='http://www.w3.org/2000/svg';
const MARK_R=18.5;
function scale(d0,d1,p0,p1){return function(v){return p0+(v-d0)/(d1-d0)*(p1-p0);};}
function fmt(v){return String(v);}
function drawScatter(host,box,xTicks,yTicks,points){
  const xs=scale(xTicks[0],xTicks[xTicks.length-1],box.l,box.r);
  const ys=scale(yTicks[0],yTicks[yTicks.length-1],box.b,box.t);
  xTicks.forEach(function(v){
    if(v===xTicks[0])return;
    const g=document.createElementNS(SVG_NS,'line');
    
    
    g.setAttribute('x1',xs(v));g.setAttribute('x2',xs(v));g.setAttribute('y1',box.t);g.setAttribute('y2',box.b);
    g.setAttribute('stroke','#dfdfdf');g.setAttribute('stroke-width','3');
    host.appendChild(g);
  });
  yTicks.forEach(function(v){
    if(v===yTicks[0])return;
    const g=document.createElementNS(SVG_NS,'line');
    
    
    g.setAttribute('x1',box.l);g.setAttribute('x2',box.r);g.setAttribute('y1',ys(v));g.setAttribute('y2',ys(v));
    g.setAttribute('stroke','#dfdfdf');g.setAttribute('stroke-width','3');
    host.appendChild(g);
  });
  points.forEach(function(p){
    const c=document.createElementNS(SVG_NS,'circle');
    
    
    c.setAttribute('cx',xs(p[0]));c.setAttribute('cy',ys(p[1]));c.setAttribute('r',MARK_R);
    c.setAttribute('fill','#0072BD');
    host.appendChild(c);
  });
  const ax=document.createElementNS(SVG_NS,'path');
  
  
  ax.setAttribute('d','M'+box.l+' '+box.t+'V'+box.b+'H'+box.r);
  ax.setAttribute('fill','none');ax.setAttribute('stroke','#262626');ax.setAttribute('stroke-width','4');
  host.appendChild(ax);
  xTicks.forEach(function(v){
    const t=document.createElementNS(SVG_NS,'line');
    
    
    t.setAttribute('x1',xs(v));t.setAttribute('x2',xs(v));t.setAttribute('y1',box.b);t.setAttribute('y2',box.b-17);
    t.setAttribute('stroke','#262626');t.setAttribute('stroke-width','3');
    host.appendChild(t);
    const l=document.createElementNS(SVG_NS,'text');
    
    
    l.setAttribute('x',xs(v));l.setAttribute('y',box.b+73);
    l.setAttribute('font-size','52');l.setAttribute('text-anchor','middle');
    l.textContent=fmt(v);
    host.appendChild(l);
  });
  yTicks.forEach(function(v){
    const t=document.createElementNS(SVG_NS,'line');
    
    
    t.setAttribute('x1',box.l);t.setAttribute('x2',box.l+17);t.setAttribute('y1',ys(v));t.setAttribute('y2',ys(v));
    t.setAttribute('stroke','#262626');t.setAttribute('stroke-width','3');
    host.appendChild(t);
    const l=document.createElementNS(SVG_NS,'text');
    
    
    l.setAttribute('x',box.l-24);l.setAttribute('y',ys(v)+20);
    l.setAttribute('font-size','52');l.setAttribute('text-anchor','end');
    l.textContent=fmt(v);
    host.appendChild(l);
  });
}
drawScatter(document.getElementById('p1'),{l:235,r:1917,t:65,b:1391},modulusTicks,stressTicks,stressVsModulus.concat(stressVsModulusDense));
drawScatter(document.getElementById('p2'),{l:2246,r:3943,t:53,b:1389},modulusTicks,hardeningTicks,hardeningVsModulus.concat(hardeningVsModulusDense));
drawScatter(document.getElementById('p3'),{l:223,r:1938,t:1729,b:3081},stressTicks,hardeningTicks,hardeningVsStress.concat(hardeningVsStressDense));

function hex(c){return [parseInt(c.substr(1,2),16),parseInt(c.substr(3,2),16),parseInt(c.substr(5,2),16)];}
const colorStops=[[-0.87,'#4436d4'],[-0.2,'#1babdf'],[0.082,'#2ec4a7'],[1,'#f9fb15']];
function heatColor(v){
  let i=0;
  while(i<colorStops.length-2&&v>colorStops[i+1][0])i++;
  const a=colorStops[i],b=colorStops[i+1];
  const f=Math.max(0,Math.min(1,(v-a[0])/(b[0]-a[0])));
  const A=hex(a[1]),B=hex(b[1]);
  return 'rgb('+A.map(function(x,k){return Math.round(x+(B[k]-x)*f);}).join(',')+')';
}
(function(){
  const host=document.getElementById('hm');
  const L=2152,R=3997,T=1678,B=3133;
  const rows=[heatRow1,heatRow2,heatRow3];
  const cw=(R-L)/heatCategories.length,ch=(B-T)/heatCategories.length;
  rows.forEach(function(row,r){
    row.forEach(function(v,c){
      const cell=document.createElementNS(SVG_NS,'rect');
      
      
      cell.setAttribute('x',L+c*cw);cell.setAttribute('y',T+r*ch);cell.setAttribute('width',cw);cell.setAttribute('height',ch);
      cell.setAttribute('fill',heatColor(v));cell.setAttribute('stroke','#262626');cell.setAttribute('stroke-width','4');
      host.appendChild(cell);
      const t=document.createElementNS(SVG_NS,'text');
      
      
      t.setAttribute('x',L+(c+.5)*cw);t.setAttribute('y',T+(r+.5)*ch+22);
      t.setAttribute('font-size','56');t.setAttribute('text-anchor','middle');
      t.setAttribute('fill',v<-0.5?'#ffffff':'#000000');
      t.textContent=v.toFixed(3);
      host.appendChild(t);
    });
  });
})();
</script>
</body>
</html>
